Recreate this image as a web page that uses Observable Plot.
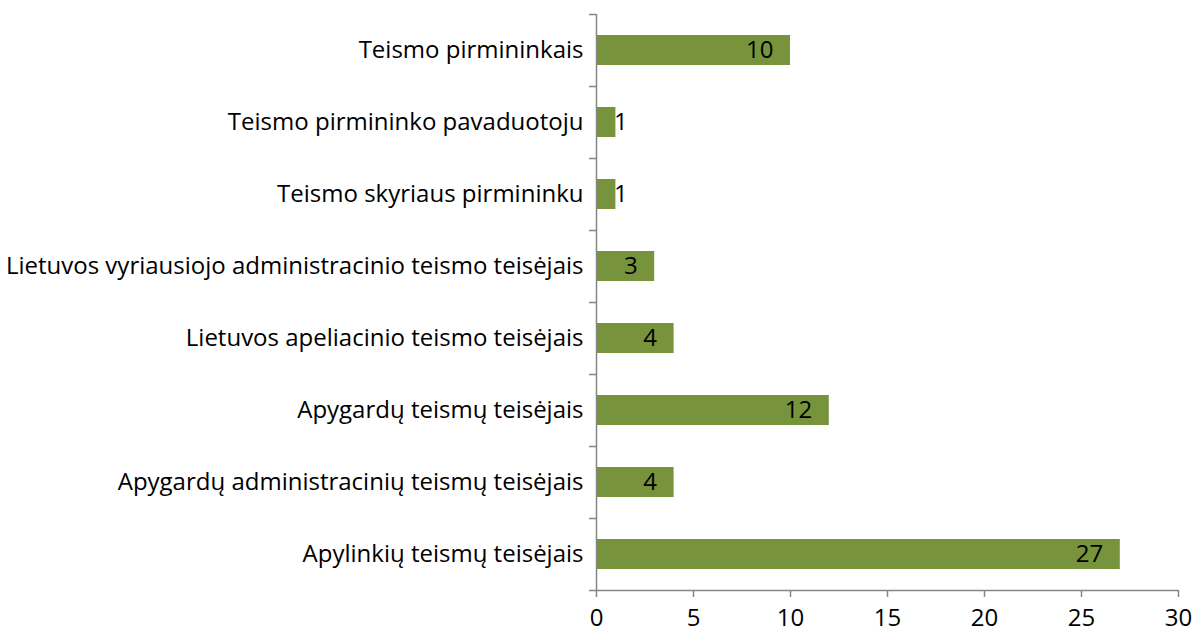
<!DOCTYPE html>
<html><head><meta charset="utf-8">
<script src="https://cdn.jsdelivr.net/npm/d3@7"></script>
<script src="https://cdn.jsdelivr.net/npm/@observablehq/plot@0.6"></script>
<style>body{margin:0;background:#fff;} svg{display:block;}</style>
</head><body><div id="chart"></div>
<script>
const categories = [
  "Teismo pirmininkais",
  "Teismo pirmininko pavaduotoju",
  "Teismo skyriaus pirmininku",
  "Lietuvos vyriausiojo administracinio teismo teisėjais",
  "Lietuvos apeliacinio teismo teisėjais",
  "Apygardų teismų teisėjais",
  "Apygardų administracinių teismų teisėjais",
  "Apylinkių teismų teisėjais"
];
const values = [10, 1, 1, 3, 4, 12, 4, 27];
const xTicks = [0, 5, 10, 15, 20, 25, 30];

const data = categories.map((c, i) => ({category: c, value: values[i]}));
const W = 1192, H = 634, mT = 14, mB = 44, mL = 596, mR = 14;
const step = (H - mT - mB) / categories.length;
const gray = "#868686";
const green = "#77933C";
const fs = 24;
const tickLen = 7 * 30 / (W - mL - mR);

const plot = Plot.plot({
  width: W, height: H,
  marginTop: mT, marginBottom: mB, marginLeft: mL, marginRight: mR,
  style: {fontFamily: "'Open Sans', sans-serif", fontSize: fs + "px", color: "#000", background: "#fff"},
  x: {domain: [0, 30], ticks: xTicks},
  y: {domain: categories, paddingInner: 0.58, paddingOuter: 0.29},
  marks: [
    Plot.barX(data, {x: "value", y: "category", fill: green}),
    Plot.ruleX([0], {stroke: gray, strokeWidth: 1.5}),
    Plot.ruleY(categories, {y: d => d, x1: -tickLen, x2: 0, dy: -step / 2, stroke: gray, strokeWidth: 1.5, clip: false}),
    Plot.ruleY(categories.slice(-1), {y: d => d, x1: -tickLen, x2: 30, dy: step / 2, stroke: gray, strokeWidth: 1.5}),
    Plot.axisX({ticks: xTicks, tickSize: 7, tickPadding: 11, stroke: gray, strokeWidth: 1.5, fill: "#000", fontSize: fs, label: null, tickFormat: d => d}),
    Plot.axisY({tickSize: 0, tickPadding: 13, fill: "#000", fontSize: fs, label: null}),
    Plot.text(data.filter(d => d.value >= 2), {x: "value", y: "category", text: d => String(d.value), textAnchor: "end", dx: -17, fontSize: fs, fill: "#000"}),
    Plot.text(data.filter(d => d.value < 2), {x: "value", y: "category", text: d => String(d.value), textAnchor: "start", dx: -2, fontSize: fs, fill: "#000"})
  ]
});
document.getElementById("chart").append(plot);
</script>
</body></html>
